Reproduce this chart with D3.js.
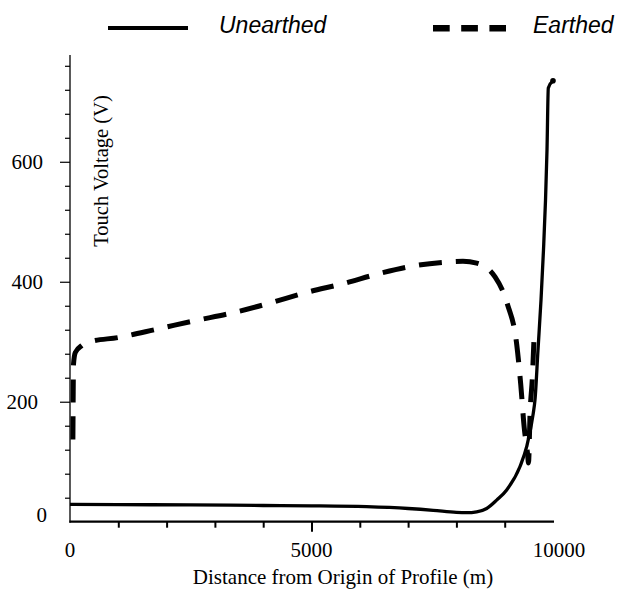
<!DOCTYPE html>
<html>
<head>
<meta charset="utf-8">
<script src="https://cdn.jsdelivr.net/npm/d3@7"></script>
<style>
  html, body { margin: 0; padding: 0; background: #fff; }
  svg { display: block; }
</style>
</head>
<body>
<svg id="chart" width="621" height="590"></svg>
<script>
// ---- data ----
const seriesNames = ["Unearthed", "Earthed"];
const unearthedX = [0, 1000, 2500, 4000, 5000, 6140, 7000, 7520, 8000, 8210, 8420, 8627, 8834, 9041, 9317, 9455, 9592, 9627, 9689, 9752, 9803, 9845, 9876, 9903, 10000];
const unearthedY = [29, 28.5, 28, 27, 26.5, 25, 22, 19, 15.5, 15, 16.5, 22, 36, 53, 92, 125, 181, 203, 286, 370, 453, 536, 620, 723, 735];
const earthedX = [60, 65, 72, 110, 250, 414, 994, 1801, 2581, 3360, 4120, 4886, 5660, 6420, 7163, 7700, 8136, 8420, 8800, 9055, 9248, 9333, 9404, 9472, 9493, 9524, 9575, 9607];
const earthedY = [137, 200, 262, 282, 294, 300, 307, 321, 335, 348, 364, 382, 397, 414, 427, 432, 434, 431, 408, 363, 296, 228, 157, 114, 98, 178, 244, 306];
const yMajorTicks = [200, 400, 600];
const yMinorTicks = [40, 80, 120, 160, 240, 280, 320, 360, 440, 480, 520, 560, 640, 680, 720, 760];
const xMajorTicks = [5000];
const xMinorTicks = [1000, 2000, 3000, 4000, 6000, 7000, 8000, 9000];
const xTickLabels = ["0", "5000", "10000"];
const xLabelValues = [0, 5000, 10000];
const yLabelValues = [0, 200, 400, 600];
const xTitle = "Distance from Origin of Profile (m)";
const yTitle = "Touch Voltage (V)";

// ---- scales ----
const svg = d3.select("#chart");
const x = d3.scaleLinear().domain([0, 10000]).range([70, 553]);
const y = d3.scaleLinear().domain([0, 778]).range([521.7, 55]);

const serif = "'Liberation Serif', 'Times New Roman', serif";
const sans = "'Liberation Sans', Arial, sans-serif";

// ---- axes ----
const yAxisMajor = d3.axisLeft(y).tickValues(yMajorTicks).tickSize(10).tickFormat("");
const yAxisMinor = d3.axisLeft(y).tickValues(yMinorTicks).tickSize(5).tickFormat("");
const xAxisMajor = d3.axisBottom(x).tickValues(xMajorTicks).tickSize(10).tickFormat("");
const xAxisMinor = d3.axisBottom(x).tickValues(xMinorTicks).tickSize(6).tickFormat("");

function styleAxis(g, w) {
  g.select(".domain").remove();
  g.selectAll(".tick line").attr("stroke", "#000").attr("stroke-width", w);
}
svg.append("g").attr("transform", "translate(70,0)").call(yAxisMajor).call(g => styleAxis(g, 1.2));
svg.append("g").attr("transform", "translate(70,0)").call(yAxisMinor).call(g => styleAxis(g, 1.2));
svg.append("g").attr("transform", "translate(0,521.7)").call(xAxisMajor).call(g => styleAxis(g, 2));
svg.append("g").attr("transform", "translate(0,521.7)").call(xAxisMinor).call(g => styleAxis(g, 2));

// axis lines
svg.append("line").attr("x1", x(0)).attr("x2", x(0)).attr("y1", y(778)).attr("y2", y(0) + 1)
  .attr("stroke", "#000").attr("stroke-width", 1.3);
svg.append("line").attr("x1", x(0) - 0.6).attr("x2", x(10000) + 1).attr("y1", y(0)).attr("y2", y(0))
  .attr("stroke", "#000").attr("stroke-width", 2.2);

// tick labels
const yLabelX = {0: 47, 200: 38, 400: 43, 600: 43};
const yLabelDy = {0: 0, 200: 7.5, 400: 7.5, 600: 7.5};
svg.append("g").selectAll("text").data(yLabelValues).join("text")
  .attr("x", d => yLabelX[d]).attr("y", d => y(d) + yLabelDy[d])
  .attr("text-anchor", "end").attr("font-family", serif).attr("font-size", 21)
  .text(d => d);
svg.append("g").selectAll("text").data(xLabelValues).join("text")
  .attr("x", d => x(d) + (d === 10000 ? 6 : 0))
  .attr("y", 556.5).attr("text-anchor", "middle")
  .attr("font-family", serif).attr("font-size", 21)
  .text((d, i) => xTickLabels[i]);

// titles
svg.append("text").attr("x", 343).attr("y", 584).attr("text-anchor", "middle")
  .attr("font-family", serif).attr("font-size", 21).text(xTitle);
svg.append("text").attr("transform", "translate(107.5,171) rotate(-90)").attr("text-anchor", "middle")
  .attr("font-family", serif).attr("font-size", 20.5).text(yTitle);

// ---- lines ----
const unearthed = unearthedX.map((v, i) => [v, unearthedY[i]]);
const earthed = earthedX.map((v, i) => [v, earthedY[i]]);
const line = d3.line().x(d => x(d[0])).y(d => y(d[1])).curve(d3.curveMonotoneX);

svg.append("path").datum(earthed).attr("d", line)
  .attr("fill", "none").attr("stroke", "#000").attr("stroke-width", 5)
  .attr("stroke-dasharray", "23,14");
svg.append("path").datum(unearthed).attr("d", line)
  .attr("fill", "none").attr("stroke", "#000").attr("stroke-width", 3.3)
  .attr("stroke-linejoin", "round");
const last = unearthed[unearthed.length - 1];
svg.append("circle").attr("cx", x(last[0])).attr("cy", y(last[1])).attr("r", 2.8).attr("fill", "#000");

// ---- legend ----
const legend = svg.append("g");
legend.append("line").attr("x1", 108).attr("x2", 188).attr("y1", 28).attr("y2", 28)
  .attr("stroke", "#000").attr("stroke-width", 4);
legend.append("text").attr("x", 219).attr("y", 32.5).attr("font-family", sans)
  .attr("font-style", "italic").attr("font-size", 23).text(seriesNames[0]);
legend.append("line").attr("x1", 433).attr("x2", 506).attr("y1", 28.3).attr("y2", 28.3)
  .attr("stroke", "#000").attr("stroke-width", 6.5).attr("stroke-dasharray", "16.7,11.5");
legend.append("text").attr("x", 533).attr("y", 32.5).attr("font-family", sans)
  .attr("font-style", "italic").attr("font-size", 23).text(seriesNames[1]);
</script>
</body>
</html>
